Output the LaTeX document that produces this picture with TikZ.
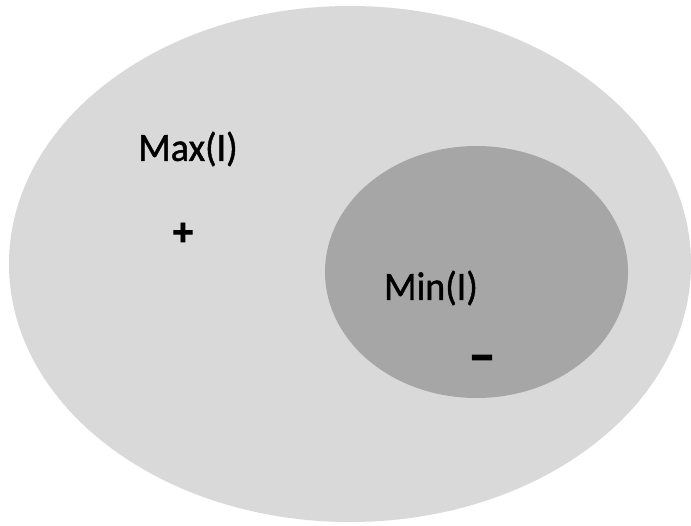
\documentclass[tikz,border=0pt]{standalone}
\usepackage{fontspec}
\setmainfont{Carlito}
\newfontfamily\heavyfont[FakeBold=1.2]{Carlito}
\newfontfamily\signfont[FakeBold=2]{Carlito Bold}
\definecolor{outerfill}{HTML}{D9D9D9}
\definecolor{innerfill}{HTML}{A6A6A6}
\begin{document}
\begin{tikzpicture}[x=1pt,y=-1pt,
  lbl/.style={font=\heavyfont\fontsize{38}{40}\selectfont, inner sep=0pt, text=black, yscale=1.05},
  sgn/.style={font=\signfont\fontsize{40}{42}\selectfont, inner sep=0pt, text=black},
  dsh/.style={font=\signfont\fontsize{54}{56}\selectfont, inner sep=0pt, text=black}]
\useasboundingbox (0,0) rectangle (691,525);
\fill[white] (0,0) rectangle (691,525);
\fill[outerfill] (350,264) ellipse [x radius=341, y radius=258];
\fill[innerfill] (476.5,272) ellipse [x radius=151.5, y radius=126];
\node[lbl] (max) at (188,149) {Max(I)};
\node[sgn] (plus) at (183,234) {+};
\node[lbl] (min) at (431,288) {Min(I)};
\node[dsh] (minus) at (482,364) {–};
\end{tikzpicture}
\end{document}
